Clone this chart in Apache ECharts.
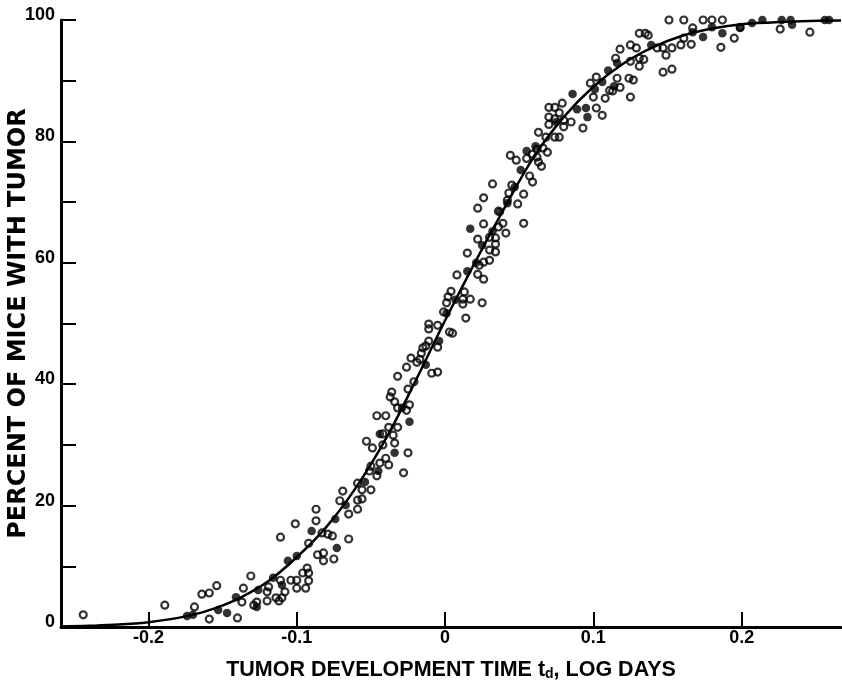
<!DOCTYPE html>
<html><head><meta charset="utf-8">
<script src="https://cdn.jsdelivr.net/npm/echarts@6/dist/echarts.min.js"></script>
<style>html,body{margin:0;padding:0;background:#fff}#c{width:842px;height:688px}</style>
</head><body><div id="c"></div>
<script>
// Tick values
const xTicks = [-0.2, -0.1, 0, 0.1, 0.2];
const yTickMarks = [0, 10, 20, 30, 40, 50, 60, 70, 80, 90, 100];
const yLabels = [0, 20, 40, 60, 80, 100];

// Fitted curve
const curveX = [-0.259, -0.24, -0.22, -0.20, -0.18, -0.16, -0.14, -0.12, -0.10, -0.08, -0.06, -0.04, -0.02, 0, 0.02, 0.04, 0.06, 0.08, 0.10, 0.12, 0.14, 0.16, 0.18, 0.20, 0.22, 0.24, 0.267];
const curveY = [0.1, 0.2, 0.4, 0.8, 1.5, 2.7, 4.6, 7.4, 11.5, 16.5, 23.0, 31.0, 40.5, 50.5, 60.0, 69.0, 77.5, 84.0, 89.0, 92.8, 95.5, 97.4, 98.6, 99.3, 99.6, 99.8, 99.9];

// Open circles
const hollowPoints = [
[-0.244,2.0],[-0.189,3.6],[-0.169,3.3],[-0.164,5.4],[-0.159,5.6],[-0.154,6.8],[-0.159,1.3],[-0.140,1.5],[-0.136,6.4],[-0.137,4.1],[-0.131,8.4],[-0.129,3.6],[-0.127,4.1],[-0.120,4.3],[-0.120,5.8],[-0.119,6.6],[-0.114,4.8],[-0.112,4.3],[-0.110,4.8],[-0.108,5.8],[-0.111,7.7],[-0.104,7.7],[-0.100,7.7],[-0.100,6.4],[-0.111,14.8],[-0.101,17.0],
[-0.087,19.4],[-0.087,17.5],[-0.083,15.5],[-0.079,15.3],[-0.076,15.0],[-0.092,13.8],[-0.086,11.9],[-0.082,12.2],[-0.082,10.9],[-0.075,11.2],[-0.093,9.7],[-0.092,8.9],[-0.096,8.9],[-0.092,7.6],[-0.094,6.4],
[-0.071,20.8],[-0.069,22.4],[-0.065,14.5],[-0.065,18.6],[-0.059,19.4],[-0.059,20.9],[-0.056,21.1],[-0.059,23.7],[-0.056,22.6],[-0.050,22.6],[-0.050,26.5],[-0.046,24.9],[-0.044,27.0],[-0.040,27.8],[-0.038,26.7],[-0.053,30.6],[-0.049,29.5],[-0.042,30.0],[-0.034,30.3],[-0.025,28.7],[-0.028,25.4],[-0.051,25.7],
[-0.042,31.8],[-0.035,31.6],[-0.038,32.9],[-0.032,32.9],[-0.046,34.8],[-0.040,34.8],[-0.032,36.1],[-0.026,35.7],[-0.024,36.6],[-0.034,37.1],[-0.037,37.9],[-0.036,38.7],[-0.025,39.2],[-0.021,40.4],[-0.032,41.3],[-0.009,41.8],[-0.005,42.0],[-0.026,42.8],[-0.023,44.3],[-0.019,43.6],[-0.017,44.1],[-0.016,45.1],[-0.005,46.1],[-0.015,46.0],[-0.013,46.3],[-0.011,47.1],[0.005,48.4],[0.003,48.6],[-0.011,49.1],[-0.011,49.9],[-0.005,49.7],[-0.001,51.9],[0.001,53.4],[0.002,54.4],[0.004,55.3],[0.012,53.2],[0.012,54.0],[0.017,54.0],[0.013,55.2],[0.014,50.9],[0.025,53.4],[0.008,58.0],[0.022,58.1],[0.026,57.3],[0.015,61.6],
[0.022,63.9],[0.030,64.2],[0.034,64.1],[0.034,63.1],[0.030,62.1],[0.034,61.8],[0.030,60.4],[0.026,60.1],[0.023,59.6],[0.022,69.0],[0.026,66.4],[0.039,66.5],[0.053,66.5],[0.036,65.9],[0.041,64.9],[0.026,70.7],[0.042,70.3],[0.049,69.7],[0.032,73.0],[0.045,72.8],[0.043,71.5],[0.053,71.3],[0.036,68.5],[0.044,77.7],[0.048,76.9],[0.055,77.2],[0.062,77.4],[0.063,76.6],[0.065,75.9],[0.069,78.2],[0.057,74.3],[0.059,73.3],[0.059,77.9],[0.066,78.9],[0.062,78.7],[0.063,81.5],[0.068,80.7],[0.074,80.7],[0.077,80.7],[0.070,85.6],[0.074,85.6],[0.079,86.3],[0.077,84.7],[0.070,84.0],[0.070,82.8],[0.074,83.7],[0.080,83.5],[0.080,82.4],[0.085,83.2],[0.093,82.2],
[0.098,89.6],[0.102,90.6],[0.116,90.4],[0.113,88.3],[0.108,87.1],[0.100,87.3],[0.102,85.5],[0.106,84.3],[0.118,88.9],[0.111,88.4],[0.124,90.4],[0.127,90.1],[0.125,87.3],[0.118,95.2],[0.115,93.7],[0.125,93.2],[0.125,95.9],[0.129,95.4],[0.131,93.7],[0.134,93.5],[0.131,92.4],[0.131,97.8],[0.135,97.8],[0.137,97.5],[0.143,95.4],[0.147,95.4],[0.149,94.2],[0.153,95.4],[0.147,91.4],[0.153,91.9],[0.159,95.9],[0.161,97.0],[0.166,96.0],[0.167,98.7],[0.151,100],[0.161,100],[0.174,100],[0.180,100],[0.187,100],[0.186,95.5],[0.195,97.0],[0.199,98.8],[0.226,98.5],[0.246,98.0]
];

// Filled circles
const filledPoints = [
[-0.174,1.8],[-0.170,2.0],[-0.153,2.8],[-0.147,2.3],[-0.141,4.9],[-0.127,3.3],[-0.126,6.1],[-0.116,8.1],[-0.110,6.9],[-0.106,10.9],[-0.100,11.7],[-0.090,15.8],[-0.074,17.8],[-0.067,20.1],[-0.073,13.0],[-0.054,23.9],[-0.045,25.7],[-0.034,28.7],[-0.044,31.8],[-0.024,33.8],[-0.029,36.1],[-0.013,43.2],[-0.004,47.1],[0.001,51.7],[0.007,53.9],[0.015,58.6],[0.021,60.0],[0.017,65.6],[0.025,62.9],[0.032,65.2],[0.037,68.4],[0.042,69.8],[0.047,72.5],[0.051,75.3],[0.055,78.4],[0.061,79.2],[0.075,83.2],[0.086,87.8],[0.089,85.3],[0.095,85.5],[0.096,84.0],[0.106,89.8],[0.110,91.7],[0.114,89.1],[0.101,88.6],[0.116,92.9],[0.139,95.9],[0.167,98.0],[0.174,97.2],[0.180,98.8],[0.187,97.8],[0.199,98.7],[0.207,99.5],[0.214,100],[0.227,100],[0.233,100],[0.234,99.2],[0.256,100],[0.259,100]
];

const curveData = curveX.map((x, i) => [x, curveY[i]]);
const labelFont = {fontFamily: 'Liberation Sans, Arial, sans-serif', fontWeight: 'bold', fontSize: 18, color: '#000'};

const chart = echarts.init(document.getElementById('c'), null, {renderer: 'canvas'});
chart.setOption({
  animation: false,
  backgroundColor: '#fff',
  grid: {left: 61, right: 1, top: 20, bottom: 61, containLabel: false, outerBoundsMode: 'none'},
  xAxis: {
    type: 'value', min: -0.259, max: 0.267,
    splitLine: {show: false},
    axisLine: {show: true, onZero: false, lineStyle: {color: '#000', width: 3}},
    axisTick: {show: true, inside: true, length: 15, customValues: xTicks, lineStyle: {color: '#000', width: 2}},
    axisLabel: Object.assign({customValues: xTicks, margin: 2, formatter: v => (v === 0 ? '0' : String(v))}, labelFont),
    name: 'TUMOR DEVELOPMENT TIME {it|t}{sub|d}, LOG DAYS',
    nameLocation: 'middle', nameGap: 32, nameMoveOverlap: false,
    nameTextStyle: {
      fontFamily: 'Liberation Sans, Arial, sans-serif', fontWeight: 'bold', fontSize: 21.5, color: '#000',
      rich: {
        it: {fontFamily: 'Liberation Sans, Arial, sans-serif', fontWeight: 'bold', fontSize: 21.5, color: '#000'},
        sub: {fontFamily: 'Liberation Sans, Arial, sans-serif', fontWeight: 'bold', fontSize: 14, color: '#000', verticalAlign: 'bottom', padding: [6, 0, 0, 0]}
      }
    }
  },
  yAxis: {
    type: 'value', min: 0, max: 100,
    splitLine: {show: false},
    axisLine: {show: true, onZero: false, lineStyle: {color: '#000', width: 3}},
    axisTick: {show: true, inside: true, length: 15, customValues: yTickMarks, lineStyle: {color: '#000', width: 2}},
    axisLabel: Object.assign({customValues: yLabels, margin: 6, verticalAlign: 'bottom', lineHeight: 10}, labelFont),
    name: 'PERCENT OF MICE WITH TUMOR',
    nameLocation: 'middle', nameGap: 30, nameMoveOverlap: false,
    nameTextStyle: {fontFamily: 'DejaVu Sans, sans-serif', fontWeight: 'bold', fontSize: 24, color: '#000'}
  },
  series: [
    {type: 'line', data: curveData, smooth: 0.4, showSymbol: false, symbol: 'none', z: 2,
     lineStyle: {color: '#000', width: 2.5}},
    {type: 'scatter', data: hollowPoints, symbol: 'circle', symbolSize: 7, z: 3,
     itemStyle: {color: 'rgba(0,0,0,0)', borderColor: '#000', borderWidth: 2.2}},
    {type: 'scatter', data: filledPoints, symbol: 'circle', symbolSize: 8.5, z: 4,
     itemStyle: {color: '#000', borderColor: '#000', borderWidth: 0}}
  ]
});
</script>
</body></html>
